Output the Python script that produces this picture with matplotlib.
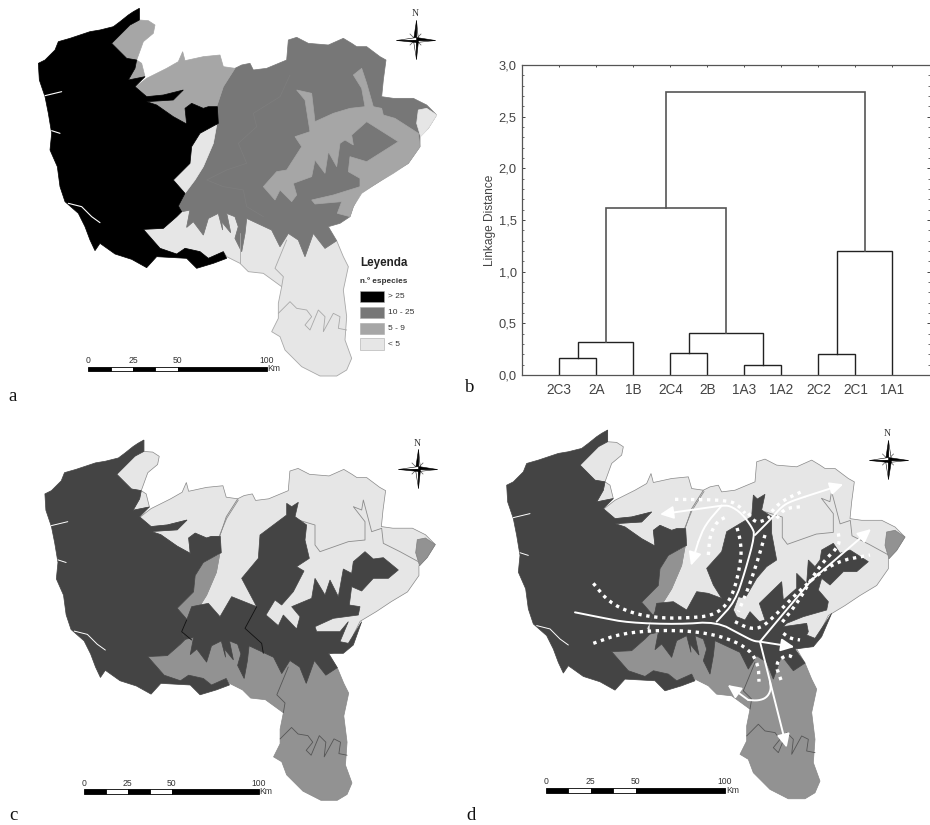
import numpy as np
import matplotlib
matplotlib.use("Agg")
import matplotlib.pyplot as plt
from matplotlib.patches import Polygon, Rectangle

# ---------------- dendrogram data ----------------
LEAVES = ['2C3', '2A', '1B', '2C4', '2B', '1A3', '1A2', '2C2', '2C1', '1A1']
# (left node, right node, height); node index >= 10 refers to an earlier merge
MERGES = [(0, 1, 0.16), (10, 2, 0.32), (3, 4, 0.21), (5, 6, 0.10), (12, 13, 0.41),
          (11, 14, 1.62), (7, 8, 0.20), (16, 9, 1.20), (15, 17, 2.74)]
Y_TICKS = [0.0, 0.5, 1.0, 1.5, 2.0, 2.5, 3.0]
Y_LABELS = ['0,0', '0,5', '1,0', '1,5', '2,0', '2,5', '3,0']

# ---------------- map outlines (shared map coordinates) ----------------
SOUTH_TOP = [(1010, 722), (975, 745), (940, 700), (915, 770), (895, 720), (865, 700), (840, 740),
             (815, 690), (740, 655), (735, 700), (725, 755), (705, 715), (715, 680), (705, 650),
             (680, 640), (692, 698), (665, 665), (668, 690), (655, 640), (625, 655), (610, 705),
             (580, 665), (560, 682), (570, 630), (545, 635)]
SOUTH_REST = [(530, 650), (490, 685), (430, 688), (480, 745), (540, 768), (555, 745), (600, 755),
              (625, 775), (670, 755), (680, 770), (720, 790), (745, 815), (790, 820), (845, 860),
              (835, 910), (835, 955), (815, 995), (840, 1010), (855, 1050), (905, 1100), (960, 1128),
              (1010, 1128), (1040, 1110), (1055, 1075), (1035, 1020), (1040, 950), (1030, 870),
              (1045, 800), (1030, 770)]
BIG_TOP = [(535, 618), (555, 580), (585, 540), (610, 500), (640, 430), (650, 375), (650, 320),
           (670, 260), (705, 205), (725, 195), (750, 190), (760, 210), (800, 205), (860, 180),
           (865, 120), (890, 112), (925, 130), (985, 135), (1030, 115), (1055, 130), (1070, 140),
           (1100, 140), (1140, 170), (1158, 180), (1150, 240), (1145, 290), (1180, 295), (1240, 295),
           (1280, 315), (1310, 345), (1285, 385), (1260, 410), (1260, 440), (1225, 490), (1175, 520),
           (1130, 550), (1080, 580), (1060, 620), (1050, 650), (1020, 670), (985, 680)]
WEST = [(418, 25), (400, 35), (385, 45), (360, 65), (340, 80), (300, 90), (270, 95), (240, 105),
        (210, 115), (175, 125), (165, 150), (135, 180), (115, 190), (118, 240), (135, 290), (145, 340),
        (155, 400), (150, 450), (172, 500), (180, 560), (195, 605), (235, 640), (255, 680), (270, 720),
        (285, 752), (300, 730), (345, 762), (395, 778), (440, 803), (470, 770), (560, 775), (590, 805),
        (640, 790), (680, 775), (670, 755), (625, 775), (600, 755), (555, 745), (530, 762), (480, 745),
        (430, 688), (490, 685), (530, 650), (545, 635), (535, 618), (555, 580), (520, 540), (570, 490),
        (575, 440), (600, 400), (655, 370), (652, 320), (625, 320), (610, 325), (575, 310), (555, 325),
        (560, 372), (520, 350), (470, 315), (440, 305), (520, 300), (550, 270), (490, 285), (440, 290),
        (405, 260), (435, 230), (385, 240), (405, 205), (410, 180), (380, 175), (335, 130), (390, 75),
        (418, 60)]
PATCH_NW = [(418, 25), (418, 60), (445, 62), (465, 75), (460, 100), (430, 125), (410, 180), (380, 175),
            (335, 130), (390, 75)]
PATCH_NW2 = [(405, 205), (385, 240), (435, 230), (425, 190), (410, 180)]
BAND_N = [(405, 262), (440, 235), (500, 205), (535, 185), (548, 155), (555, 182), (610, 170), (660, 165),
          (670, 200), (705, 205), (670, 260), (650, 320), (625, 320), (610, 325), (575, 310), (555, 325),
          (560, 372), (520, 350), (470, 315), (440, 305), (520, 300), (550, 270), (490, 285), (440, 290)]
BAND_INNER = [(890, 270), (935, 280), (945, 365), (1000, 340), (1050, 325), (1095, 320), (1085, 265),
              (1060, 225), (1085, 205), (1100, 250), (1120, 320), (1145, 325), (1150, 345), (1185, 355),
              (1255, 400), (1260, 440), (1225, 490), (1180, 520), (1130, 550), (1085, 580), (1060, 620),
              (1050, 650), (1012, 640), (1025, 605), (945, 612), (935, 600), (1000, 585), (1080, 560),
              (1080, 535), (1045, 515), (1050, 470), (1100, 485), (1195, 425), (1100, 365), (1055, 405),
              (1060, 435), (1035, 420), (1020, 430), (1010, 500), (985, 455), (975, 520), (945, 480),
              (935, 530), (880, 550), (890, 585), (875, 605), (840, 570), (825, 600), (790, 560),
              (830, 515), (860, 510), (905, 440), (885, 410), (930, 395), (915, 300)]
CORNER = [(1255, 330), (1280, 325), (1310, 345), (1285, 385), (1262, 410), (1250, 370)]
SLIVER = [(650, 375), (640, 430), (610, 500), (585, 540), (555, 580), (520, 540), (570, 490), (575, 440),
          (600, 400)]
RIVERS = [[(135, 287), (185, 275)], [(155, 392), (180, 400)],
          [(205, 610), (245, 620), (275, 650), (300, 668)]]
SOUTH_LINES = [[(860, 720), (825, 805), (850, 830), (845, 860)],
               [(835, 940), (870, 905), (890, 925), (920, 930), (935, 950), (915, 975), (930, 990),
                (955, 930), (975, 950), (970, 995), (1000, 940), (1020, 950), (1015, 985), (1040, 990)],
               [(720, 700), (720, 790)]]
FAINT_A = [(870, 225), (840, 290), (760, 340), (770, 380), (715, 430), (740, 490), (680, 510), (620, 540),
           (670, 560), (730, 570), (740, 620), (790, 650)]

# center of panel c, read in panel-c zoom coordinates
CENTER_C = [(860, 265), (875, 275), (895, 262), (885, 305), (920, 330), (915, 375), (928, 430), (890, 455),
            (912, 468), (880, 530), (845, 570), (825, 555), (798, 600), (835, 632), (850, 600), (890, 642),
            (900, 605), (875, 575), (935, 550), (945, 490), (975, 540), (990, 495), (1015, 545), (1030, 462),
            (1055, 475), (1060, 440), (1095, 410), (1120, 432), (1150, 428), (1195, 465), (1165, 490),
            (1120, 490), (1085, 528), (1055, 515), (1048, 570), (1080, 575), (1075, 600), (1000, 610),
            (945, 635), (950, 650), (1020, 650), (1045, 620), (1020, 680), (1045, 685), (1085, 620),
            (1060, 690), (1030, 715), (985, 715)]
CENTER_C_W = [(545, 650), (560, 615), (575, 575), (625, 565), (660, 605), (695, 545), (770, 575), (725, 490),
              (775, 430), (780, 360), (860, 300)]
C_BLACK = [[(770, 575), (735, 640), (785, 685), (790, 715)], [(560, 615), (545, 650), (575, 675)]]
C_GRAY = [[(715, 255), (680, 310), (655, 370)],
          [(895, 315), (945, 330), (945, 390), (960, 410), (1045, 380), (1095, 375), (1095, 320), (1060, 275),
           (1085, 285), (1090, 255), (1115, 350), (1145, 340), (1150, 385), (1200, 410), (1255, 440)]]

# center of panel d, read in panel-d zoom coordinates
CENTER_D = [(865, 240), (877, 252), (900, 238), (890, 285), (920, 305), (920, 355), (935, 435), (905, 455),
            (875, 490), (840, 550), (820, 545), (805, 585), (815, 605), (840, 615), (855, 590), (883, 620),
            (900, 615), (883, 565), (950, 500), (955, 555), (995, 520), (995, 475), (1025, 505), (1030, 435),
            (1050, 455), (1065, 435), (1070, 405), (1105, 385), (1125, 415), (1155, 405), (1210, 440),
            (1175, 470), (1135, 470), (1095, 510), (1070, 490), (1060, 525), (1090, 560), (1085, 585),
            (1015, 605), (965, 625), (955, 635), (1025, 625), (1030, 650), (1025, 660), (1050, 670),
            (1100, 595), (1070, 665), (1045, 695), (990, 702)]
CENTER_D_W = [(555, 625), (570, 590), (575, 565), (625, 560), (665, 585), (695, 530), (730, 535), (770, 550),
              (745, 510), (725, 460), (770, 410), (785, 350), (860, 305)]

# routes of panel d, in panel-d zoom coordinates
ROUTE_LINES = [[(330, 592), (410, 608), (490, 623), (640, 628), (755, 620), (830, 660), (865, 678), (885, 680)],
               [(755, 620), (810, 560), (840, 470), (870, 360), (860, 335), (830, 295), (795, 272), (770, 272)],
               [(870, 360), (920, 310), (945, 280), (970, 262), (1020, 245)],
               [(885, 680), (960, 590), (1040, 495)],
               [(770, 272), (720, 330), (700, 380)],
               [(915, 800), (918, 825), (905, 848), (880, 857), (850, 855)]]
ROUTE_ARROWS = [[(770, 272), (585, 298)], [(700, 380), (678, 452)], [(1020, 245), (1135, 208)],
                [(1040, 495), (1218, 342)], [(885, 680), (988, 696)], [(885, 680), (965, 998)],
                [(850, 855), (788, 810)]]
ROUTE_DOTS = [[(385, 505), (430, 560), (500, 595), (590, 610), (680, 608), (730, 603), (765, 588), (795, 555),
               (815, 500), (830, 420), (825, 370), (815, 335)],
              [(385, 685), (470, 655), (590, 645), (700, 650), (790, 670), (855, 705), (880, 750), (882, 800)],
              [(850, 295), (870, 322), (895, 318), (915, 305)],
              [(900, 360), (880, 430), (850, 520), (820, 590)],
              [(810, 620), (850, 640), (885, 640), (920, 612), (1020, 510), (1110, 440), (1215, 420)],
              [(730, 420), (735, 360), (755, 320), (785, 305)],
              [(630, 253), (790, 255), (825, 275), (840, 295)],
              [(920, 290), (950, 258), (1010, 230)],
              [(935, 310), (960, 280), (1010, 275)],
              [(1120, 355), (1125, 390), (1075, 440), (1040, 490), (1000, 560), (945, 630)],
              [(955, 655), (975, 670), (1005, 675)],
              [(948, 795), (930, 745), (965, 718), (990, 730)]]

# ---------------- legend / scale bar / labels ----------------
LEGEND_LABELS = ['> 25', '10 - 25', '5 - 9', '< 5']
SCALE_VALUES = [0, 25, 50, 100]
SCALE_BLOCKS = [(0, 12.5, 'k'), (12.5, 25, 'w'), (25, 37.5, 'k'), (37.5, 50, 'w'), (50, 100, 'k')]

A_COLORS = ['#000000', '#777777', '#a6a6a6', '#e6e6e6']
DARK, MID, LIGHT = '#444444', '#929292', '#e6e6e6'

fig = plt.figure(figsize=(9.3, 8.25), dpi=100, facecolor='white')
ax = fig.add_axes([0, 0, 1, 1])
ax.set_xlim(0, 930)
ax.set_ylim(825, 0)
ax.axis('off')


def tf_a(p):
    p = np.asarray(p, float)
    return p / 3.0


def tf_c(p):
    p = np.asarray(p, float)
    return np.column_stack([(0.98 * p[:, 0] + 22) / 3.0, 415 + (0.98 * p[:, 1] + 50.5) / 3.0])


def tf_d(p):
    p = np.asarray(p, float)
    return np.column_stack([465 + (p[:, 0] + 10) / 3.0, 415 + (1.003 * p[:, 1] + 20) / 3.0])


def zd(p):
    p = np.asarray(p, float)
    return np.column_stack([465 + p[:, 0] / 3.0, 415 + p[:, 1] / 3.0])


def inv_c(p):
    p = np.asarray(p, float)
    return np.column_stack([(p[:, 0] - 22) / 0.98, (p[:, 1] - 50.5) / 0.98])


def inv_d(p):
    p = np.asarray(p, float)
    return np.column_stack([p[:, 0] - 10, (p[:, 1] - 20) / 1.003])


def rounded(p, n=2):
    """Corner cutting so that a drawn route reads as a curve."""
    p = np.asarray(p, float)
    for _ in range(n):
        q = [p[0]]
        for a_, b_ in zip(p[:-1], p[1:]):
            q += [0.75 * a_ + 0.25 * b_, 0.25 * a_ + 0.75 * b_]
        q.append(p[-1])
        p = np.array(q)
    return p


def poly(xy, color, edge=None, lw=0.5, z=2):
    ax.add_patch(Polygon(xy, closed=True, facecolor=color, edgecolor=edge if edge else color, lw=lw, zorder=z))


def compass(cx, cy, nx, ny):
    L, w, m = 19.5, 2.6, 5.5
    dirs = [(0, -1), (1, 0), (0, 1), (-1, 0)]
    for dx, dy in dirs:
        tip = (cx + dx * L, cy + dy * L)
        px, py = -dy, dx
        poly([tip, (cx, cy), (cx + px * w, cy + py * w)], 'white', 'black', 0.4, 6)
        poly([tip, (cx, cy), (cx - px * w, cy - py * w)], 'black', 'black', 0.4, 6)
    for sx, sy in [(1, 1), (1, -1), (-1, 1), (-1, -1)]:
        ax.plot([cx, cx + sx * m], [cy, cy + sy * m], color='#555555', lw=0.5, zorder=5)
    ax.text(nx, ny, 'N', family='Liberation Serif', fontsize=7, ha='center', va='center', color='#333333')


def scalebar(x0, x1, y0, y1, lab_y, km_x):
    w = (x1 - x0) / 100.0
    for a_, b_, c_ in SCALE_BLOCKS:
        ax.add_patch(Rectangle((x0 + a_ * w, y0), (b_ - a_) * w, y1 - y0, facecolor='black' if c_ == 'k' else 'white',
                               edgecolor='black', lw=0.6, zorder=7))
    for v in SCALE_VALUES:
        ax.text(x0 + v * w, lab_y, str(v), family='Liberation Sans', fontsize=6.2, ha='center', va='center',
                color='#333333')
    ax.text(km_x, (y0 + y1) / 2, 'Km', family='Liberation Sans', fontsize=6.2, ha='center', va='center',
            color='#333333')


def lines(tf, group, color, lw, z=4):
    for seg in group:
        xy = tf(seg)
        ax.plot(xy[:, 0], xy[:, 1], color=color, lw=lw, zorder=z, solid_capstyle='round')


south = SOUTH_TOP + SOUTH_REST
big = BIG_TOP + SOUTH_TOP

# ---------------- panel a ----------------
poly(tf_a(south), A_COLORS[3], '#a8a8a8', 0.6)
poly(tf_a(big), A_COLORS[1], z=2.5)
poly(tf_a(BAND_N), A_COLORS[2], z=2.6)
poly(tf_a(PATCH_NW), A_COLORS[2], z=2.6)
poly(tf_a(PATCH_NW2), A_COLORS[2], z=2.6)
poly(tf_a(SLIVER), A_COLORS[3], z=2.6)
poly(tf_a(BAND_INNER), A_COLORS[2], z=2.7)
poly(tf_a(CORNER), A_COLORS[3], z=2.8)
poly(tf_a(WEST), A_COLORS[0], z=3)
lines(tf_a, RIVERS, 'white', 0.8)
lines(tf_a, SOUTH_LINES, '#a8a8a8', 0.6)
lines(tf_a, [FAINT_A], '#7e7e7e', 0.5)
compass(415.5, 39.5, 415, 13)
scalebar(88.3, 266.7, 366.5, 371, 360.5, 274)
ax.text(360, 263, 'Leyenda', family='Liberation Sans', weight='bold', fontsize=8.4, va='center', color='#222222')
ax.text(360, 281, 'n.º especies', family='Liberation Sans', weight='bold', fontsize=5.9, va='center', color='#333333')
sw_y = [291, 306.7, 322.7, 338.3]
for c_, lab, y_ in zip(A_COLORS, LEGEND_LABELS, sw_y):
    ax.add_patch(Rectangle((360, y_), 24, 11.3, facecolor=c_, edgecolor='#aaaaaa', lw=0.4, zorder=4))
    ax.text(388, y_ + 5.8, lab, family='Liberation Sans', fontsize=6, va='center', color='#333333')


# ---------------- panels c and d ----------------
def base_map(tf, center):
    poly(tf(big), LIGHT, '#888888', 0.5)
    poly(tf(BAND_N), LIGHT, '#888888', 0.5, z=2.05)
    poly(tf(PATCH_NW), LIGHT, '#888888', 0.5, z=2.05)
    poly(tf(PATCH_NW2), LIGHT, '#888888', 0.5, z=2.05)
    poly(tf(south), MID, '#888888', 0.5, z=2.1)
    poly(tf(SLIVER), MID, z=2.15)
    poly(tf(CORNER), MID, '#808080', 0.5, z=2.2)
    poly(tf(center), DARK, z=2.5)
    poly(tf(WEST), DARK, z=2.6)
    lines(tf, RIVERS, 'white', 0.7)
    lines(tf, SOUTH_LINES[:2], '#555555', 0.6)
    lines(tf, [inv_c(s) for s in C_GRAY], '#8c8c8c', 0.6, z=2.3)


center_c = np.vstack([inv_c(CENTER_C), np.array(SOUTH_TOP, float), inv_c(CENTER_C_W)])
center_d = np.vstack([inv_d(CENTER_D), np.array(SOUTH_TOP, float), inv_d(CENTER_D_W)])

base_map(tf_c, center_c)
lines(tf_c, [inv_c(s) for s in C_BLACK], '#111111', 0.6)
compass(417.5, 468.5, 417, 443)
scalebar(84, 259, 789, 793.5, 783, 266)

base_map(tf_d, center_d)
compass(888, 459.5, 887.5, 433)
scalebar(546, 725, 788, 792.5, 781, 733)

for seg in ROUTE_DOTS:
    xy = zd(rounded(seg))
    ax.plot(xy[:, 0], xy[:, 1], color='white', lw=2.4, linestyle=(0, (1, 1.4)), dash_capstyle='butt', zorder=5)
for seg in ROUTE_LINES:
    xy = zd(rounded(seg))
    ax.plot(xy[:, 0], xy[:, 1], color='white', lw=1.4, zorder=5.5, solid_capstyle='round')
for seg in ROUTE_ARROWS:
    xy = zd(seg)
    ax.annotate('', xy=xy[1], xytext=xy[0], zorder=5.6,
                arrowprops=dict(arrowstyle='-|>,head_length=0.8,head_width=0.38', color='white', lw=1.4,
                                mutation_scale=10, shrinkA=0, shrinkB=0))

# ---------------- panel letters ----------------
for s_, x_, y_ in [('a', 12.5, 401), ('b', 470, 392), ('c', 13, 820), ('d', 471, 820)]:
    ax.text(x_, y_, s_, family='Liberation Serif', fontsize=13.5, ha='center', va='baseline', color='#111111')

# ---------------- panel b: dendrogram ----------------
W, H = 930.0, 825.0
bx0, bx1, by0, by1 = 522.3, 929.5, 65.0, 375.0
axb = fig.add_axes([bx0 / W, 1 - by1 / H, (bx1 - bx0) / W, (by1 - by0) / H], facecolor='none')
axb.set_xlim(0, 11)
axb.set_ylim(0, 3)
node_x = {i: i + 1.0 for i in range(len(LEAVES))}
node_h = {i: 0.0 for i in range(len(LEAVES))}
for k, (l_, r_, h_) in enumerate(MERGES):
    idx = len(LEAVES) + k
    dark = h_ < 1.5
    axb.plot([node_x[l_], node_x[l_], node_x[r_], node_x[r_]], [node_h[l_], h_, h_, node_h[r_]],
             color='#222222' if dark else '#555555', lw=1.0 if dark else 1.2, solid_joinstyle='miter')
    node_x[idx] = (node_x[l_] + node_x[r_]) / 2
    node_h[idx] = h_
axb.set_xticks(range(1, 11))
axb.set_xticklabels(LEAVES, family='Liberation Sans', fontsize=9.8, color='#444444')
axb.set_yticks(Y_TICKS)
axb.set_yticklabels(Y_LABELS, family='Liberation Sans', fontsize=9.3, color='#444444')
axb.set_yticks(np.arange(0, 31) / 10.0, minor=True)
axb.tick_params(axis='x', which='major', direction='in', top=True, bottom=True, length=1.5, width=0.7,
                color='#444444', pad=6)
axb.tick_params(axis='y', which='major', direction='in', left=True, right=True, length=2.2, width=0.7,
                color='#444444', pad=4)
axb.tick_params(axis='y', which='minor', direction='in', left=True, right=True, length=1.2, width=0.6,
                color='#555555')
for sp in axb.spines.values():
    sp.set_linewidth(0.9)
    sp.set_color('#555555')
axb.spines['right'].set_visible(False)
axb.set_ylabel('Linkage Distance', family='Liberation Sans', fontsize=8.6, color='#444444', labelpad=2)

fig.savefig('out.png', dpi=100, facecolor='white')
